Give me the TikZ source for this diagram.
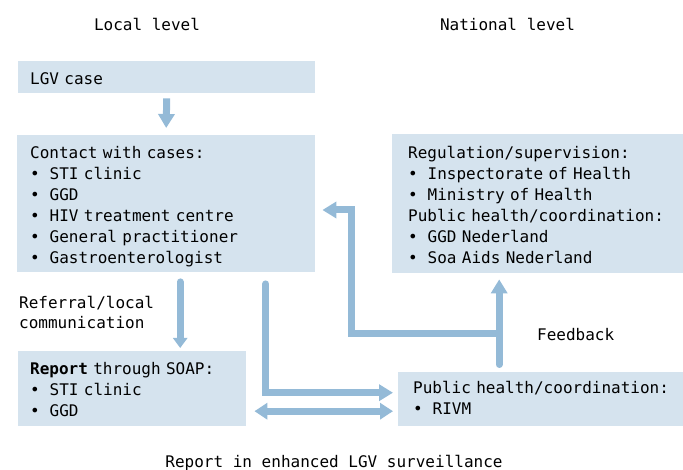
\documentclass[tikz,border=0pt]{standalone}
\usepackage{fontspec}
\setmainfont{DejaVu Sans Mono}
\usetikzlibrary{arrows.meta}
\definecolor{boxfill}{HTML}{D5E3EE}
\definecolor{arrowcol}{HTML}{94BAD7}
\newcommand\fsz{\fontsize{16pt}{21pt}\selectfont}
\newcommand\bul{\makebox[19.5pt][l]{•}}
\tikzset{
  box/.style={fill=boxfill, anchor=north west, align=left, inner ysep=0pt, font=\fsz},
  lbl/.style={font=\fsz, inner sep=0pt},
  flow/.style={draw=arrowcol, line width=7pt, -{Triangle[width=16pt,length=14pt]}},
  flowr/.style={flow, line cap=round},
  flowd/.style={draw=arrowcol, line width=7pt, {Triangle[width=16pt,length=13pt]}-{Triangle[width=16pt,length=13pt]}},
}
\begin{document}
\begin{tikzpicture}[x=1pt,y=-1pt]
\useasboundingbox (0,0) rectangle (683,470);

\node[lbl] (local) at (147,24) {Local level};
\node[lbl] (national) at (507.5,24) {National level};

\node[box, text width=273pt, inner xsep=12pt, text height=23pt, text depth=9pt] (lgv) at (18,61) {LGV case};
\node[box, text width=272pt, inner xsep=13pt, text height=23pt, text depth=114pt] (contact) at (17,135)
  {\mbox{Contact with cases:}\\
   \mbox{\bul STI clinic}\\
   \mbox{\bul GGD}\\
   \mbox{\bul HIV treatment centre}\\
   \mbox{\bul General practitioner}\\
   \mbox{\bul Gastroenterologist}};
\node[box, text width=259pt, inner xsep=16pt, text height=24pt, text depth=115pt] (nat) at (392,134)
  {\mbox{Regulation/supervision:}\\
   \mbox{\bul Inspectorate of Health}\\
   \mbox{\bul Ministry of Health}\\
   \mbox{Public health/coordination:}\\
   \mbox{\bul GGD Nederland}\\
   \mbox{\bul Soa Aids Nederland}};
\node[box, text width=204pt, inner xsep=12pt, text height=23pt, text depth=52pt] (report) at (18,351)
  {\mbox{\textbf{Report} through SOAP:}\\
   \mbox{\bul STI clinic}\\
   \mbox{\bul GGD}};
\node[box, text width=255pt, inner xsep=15pt, text height=21pt, text depth=33pt] (rivm) at (398,372)
  {\mbox{Public health/coordination:}\\
   \mbox{\bul RIVM}};

\node[lbl, anchor=west, align=left, font=\fontsize{16pt}{20pt}\selectfont] (referral) at (19,312.5)
  {Referral/local\\communication};
\node[lbl, anchor=west] (feedback) at (537,335) {Feedback};
\node[lbl, anchor=base] (surv) at (334,467) {Report in enhanced LGV surveillance};

% arrows
\draw[flow] ([yshift=-5pt]lgv.south) -- ([yshift=7pt]contact.north);
\draw[flowr, -{Triangle[width=14pt,length=10pt]}] ([xshift=14pt,yshift=-9.5pt]contact.south) -- ([yshift=3pt,xshift=14pt]report.north -| contact.south);
\draw[flowr] ([xshift=99.5pt,yshift=-11.5pt]contact.south) |- ([xshift=-5pt,yshift=6.5pt]rivm.west);
\draw[flowd] ([xshift=8pt,yshift=-22.5pt]report.east) -- ([xshift=-5pt,yshift=-12pt]rivm.west);

\coordinate (fb) at ([xshift=-41.5pt,yshift=7.5pt]rivm.north);
\coordinate (fbj) at ([yshift=30.5pt]fb);
\coordinate (fbk) at (351,210);
\draw[flowr] (fb) -- ([yshift=-6pt]nat.south -| fb);
\draw[flow] (fbj) -| (fbk) -- ([xshift=7pt]contact.east |- fbk);
\end{tikzpicture}
\end{document}
